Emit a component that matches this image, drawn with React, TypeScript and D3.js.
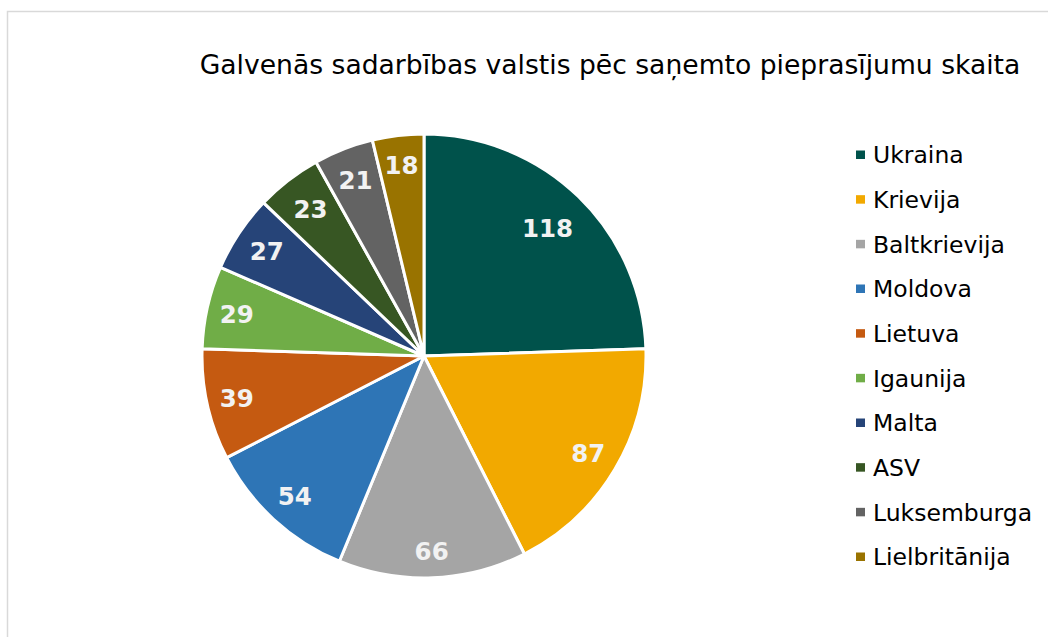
import React from "react";
import * as d3 from "d3";

const categories = ["Ukraina", "Krievija", "Baltkrievija", "Moldova", "Lietuva", "Igaunija", "Malta", "ASV", "Luksemburga", "Lielbritānija"];
const values = [118, 87, 66, 54, 39, 29, 27, 23, 21, 18];
const colors = ["#00524b", "#f2a900", "#a5a5a5", "#2e75b6", "#c55a11", "#70ad47", "#264478", "#375623", "#636363", "#997300"];
const title = "Galvenās sadarbības valstis pēc saņemto pieprasījumu skaita";

// label placement (radius fraction per slice)
const labelRadius = [0.8, 0.86, 0.88, 0.86, 0.865, 0.865, 0.85, 0.835, 0.85, 0.865];

export default function App() {
  const W = 1048, H = 637;
  const cx = 424, cy = 356, r = 222;
  const pie = d3.pie<number>().sort(null).value((d) => d)(values);
  const arc = d3.arc<d3.PieArcDatum<number>>().innerRadius(0).outerRadius(r);
  const legY = d3.scaleLinear().domain([0, categories.length - 1]).range([155, 557]);
  const font = "'DejaVu Sans', Verdana, sans-serif";
  return (
    <svg width={W} height={H} style={{ position: "absolute", left: 0, top: 0, display: "block" }}>
      <rect x={7.5} y={11.5} width={W + 10} height={H + 10} fill="#fff" stroke="#d9d9d9" strokeWidth={1.5} />
      <text x={610} y={74} textAnchor="middle" fontFamily={font} fontSize={26.6} fill="#000">{title}</text>
      <g transform={`translate(${cx},${cy})`}>
        {pie.map((p, i) => (
          <path key={categories[i]} d={arc(p) || ""} fill={colors[i]} stroke="#fff" strokeWidth={3} strokeLinejoin="round" />
        ))}
        {pie.map((p, i) => {
          const la = d3.arc<d3.PieArcDatum<number>>().innerRadius(r * labelRadius[i]).outerRadius(r * labelRadius[i]);
          const [x, y] = la.centroid(p);
          return (
            <text key={"l" + i} x={x} y={y} dy="0.36em" textAnchor="middle" fontFamily={font} fontWeight="bold" fontSize={24.5} fill="#f2f2f2">{values[i]}</text>
          );
        })}
      </g>
      {categories.map((c, i) => (
        <g key={"g" + c} transform={`translate(856,${legY(i)})`}>
          <rect x={0} y={-4.5} width={9} height={8.5} fill={colors[i]} />
          <text x={17} y={0} dy="0.36em" fontFamily={font} fontSize={23.5} fill="#000">{c}</text>
        </g>
      ))}
    </svg>
  );
}
